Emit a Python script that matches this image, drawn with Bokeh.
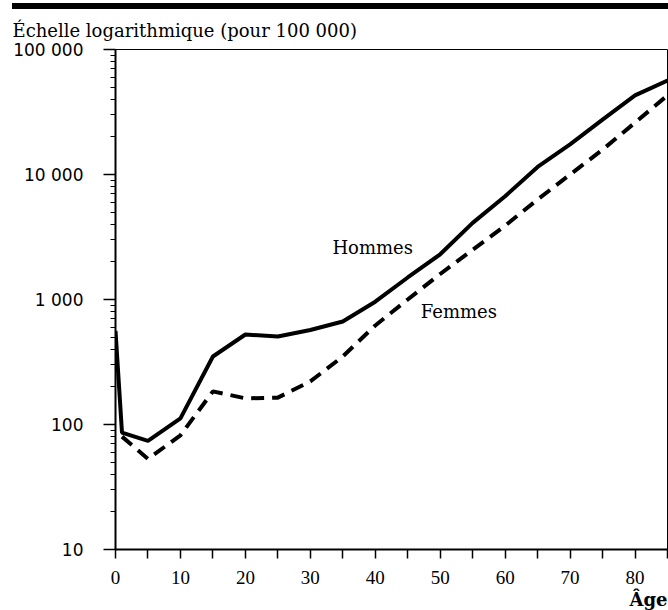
from bokeh.plotting import figure
from bokeh.models import (Range1d, FixedTicker, CustomJSTickFormatter, Label,
                          Title, Div)
from bokeh.layouts import column
from bokeh.embed import file_html
from bokeh.resources import INLINE

# ---- data ----
ages = [0, 1, 5, 10, 15, 20, 25, 30, 35, 40, 45, 50, 55, 60, 65, 70, 75, 80, 85]
hommes = [560, 86, 74, 112, 350, 525, 506, 570, 667, 960, 1500, 2300, 4100,
          6700, 11500, 17400, 27500, 43000, 56500]
femmes = [float("nan"), 80, 53, 82, 184, 162, 164, 221, 350, 620, 1000, 1600,
          2500, 3900, 6300, 10000, 15800, 26000, 43000]
y_ticks = [10, 100, 1000, 10000, 100000]
x_ticks = [0, 10, 20, 30, 40, 50, 60, 70, 80]
x_minor = [5, 15, 25, 35, 45, 55, 65, 75, 85]
title_text = "Échelle logarithmique (pour 100 000)"
x_title = "Âge"

SERIF = "DejaVu Serif"

# ---- thick top bar ----
bar = Div(text="", width=656, height=6, margin=(3, 0, 0, 12),
          styles={"background-color": "black"})

# ---- main chart ----
p = figure(width=668, height=601, x_range=Range1d(0, 85),
           y_range=Range1d(10, 100000), y_axis_type="log",
           min_border_left=115, min_border_right=1, min_border_top=40,
           min_border_bottom=61, toolbar_location=None,
           output_backend="svg", outline_line_color="black",
           outline_line_width=1)
p.grid.visible = False

p.title.text = title_text
p.title.align = "left"
p.title.offset = -103
p.title.standoff = 17
p.title.text_font = SERIF
p.title.text_font_size = "18px"
p.title.text_font_style = "normal"
p.title.text_color = "black"

minor_y = [m * 10 ** k for k in range(1, 5) for m in range(2, 10)]
p.yaxis.ticker = FixedTicker(ticks=y_ticks, minor_ticks=minor_y)
p.yaxis.formatter = CustomJSTickFormatter(
    code='return Math.round(tick).toString().replace(/\\B(?=(\\d{3})+(?!\\d))/g, " ");')
p.yaxis.major_tick_out = 12
p.yaxis.major_tick_in = 0
p.yaxis.minor_tick_out = 5
p.yaxis.minor_tick_in = 0
p.yaxis.axis_line_width = 2
p.yaxis.major_tick_line_width = 1.5
p.yaxis.minor_tick_line_width = 1
p.yaxis.major_label_text_font = "DejaVu Sans"
p.yaxis.major_label_text_font_size = "17px"
p.yaxis.major_label_standoff = 20
p.yaxis.major_label_text_color = "black"

p.xaxis.ticker = FixedTicker(ticks=x_ticks, minor_ticks=x_minor)
p.xaxis.major_tick_out = 9
p.xaxis.major_tick_in = 0
p.xaxis.minor_tick_out = 9
p.xaxis.minor_tick_in = 0
p.xaxis.axis_line_width = 2
p.xaxis.major_tick_line_width = 1.5
p.xaxis.minor_tick_line_width = 1.5
p.xaxis.major_label_text_font = "Liberation Serif"
p.xaxis.major_label_text_font_size = "19px"
p.xaxis.major_label_standoff = 12
p.xaxis.major_label_text_color = "black"

p.line(ages, hommes, line_color="black", line_width=4)
p.line(ages, femmes, line_color="black", line_width=4, line_dash="13 8")

p.add_layout(Label(x=33.4, y=2600, text="Hommes", text_font=SERIF,
                   text_color="black", text_font_size="18px",
                   text_baseline="alphabetic"))
p.add_layout(Label(x=47.0, y=800, text="Femmes", text_font=SERIF,
                   text_color="black", text_font_size="18px",
                   text_baseline="alphabetic"))

age_title = Title(text=x_title, align="right", offset=0, standoff=1,
                  text_font=SERIF, text_font_size="18px",
                  text_font_style="bold", text_color="black")
p.add_layout(age_title, "below")

layout = column(bar, p, spacing=0)
open("out.html", "w").write(file_html(layout, INLINE))
